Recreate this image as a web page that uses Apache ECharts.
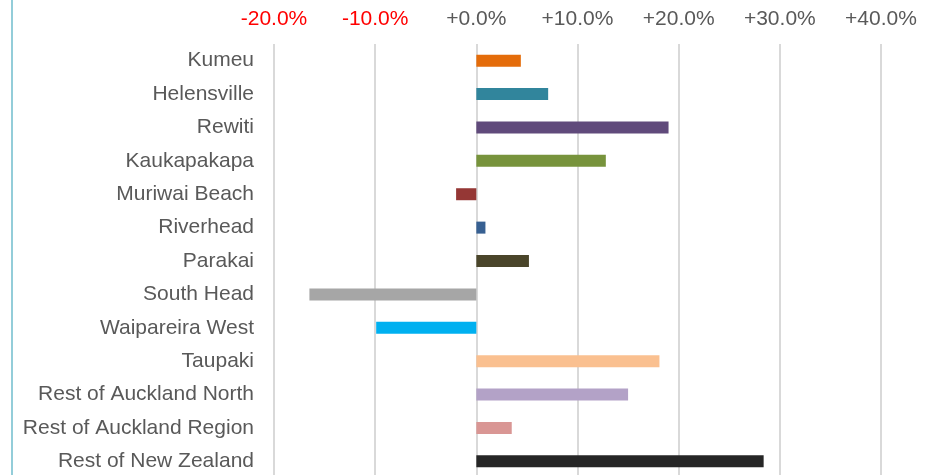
<!DOCTYPE html>
<html>
<head>
<meta charset="utf-8">
<script src="https://cdn.jsdelivr.net/npm/echarts@6/dist/echarts.min.js"></script>
<style>
  html, body { margin: 0; padding: 0; background: #fff; }
  #wrap { position: relative; width: 939px; height: 475px; overflow: hidden; }
  #edge { position: absolute; left: 11px; top: 0; width: 2px; height: 475px; background: #93cdd9; }
  #chart { position: absolute; left: 0; top: 0; width: 939px; height: 482px; }
</style>
</head>
<body>
<div id="wrap">
  <div id="chart"></div>
  <div id="edge"></div>
</div>
<script>
// areas, top to bottom
const areas = [
  'Kumeu', 'Helensville', 'Rewiti', 'Kaukapakapa', 'Muriwai Beach', 'Riverhead',
  'Parakai', 'South Head', 'Waipareira West', 'Taupaki', 'Rest of Auckland North',
  'Rest of Auckland Region', 'Rest of New Zealand'
];
// % change
const changes = [4.4, 7.1, 19.0, 12.8, -2.0, 0.9, 5.2, -16.5, -9.9, 18.1, 15.0, 3.5, 28.4];
const barColors = [
  '#e46c0a', '#31859c', '#604a7b', '#77933c', '#953735', '#376092',
  '#4a452a', '#a6a6a6', '#00b0f0', '#fac090', '#b3a2c7', '#d99694', '#262626'
];
const tickLabels = ['-20.0%', '-10.0%', '+0.0%', '+10.0%', '+20.0%', '+30.0%', '+40.0%'];

const chart = echarts.init(document.getElementById('chart'));

chart.setOption({
  animation: false,
  textStyle: { fontFamily: 'Liberation Sans, Arial, sans-serif' },
  grid: { left: 274, right: 58, top: 44, height: 434 },
  xAxis: {
    type: 'value',
    position: 'top',
    min: -20,
    max: 40,
    interval: 10,
    axisLine: { show: false },
    axisTick: { show: false },
    splitLine: { lineStyle: { color: '#d9d9d9', width: 2 } },
    axisLabel: {
      margin: 14,
      fontSize: 21,
      color: '#595959',
      formatter: (v) => {
        const i = Math.round((v + 20) / 10);
        const t = tickLabels[i];
        return v < 0 ? '{neg|' + t + '}' : t;
      },
      rich: { neg: { color: '#ff0000', fontSize: 21 } }
    }
  },
  yAxis: {
    type: 'category',
    data: areas,
    inverse: true,
    axisLine: { show: false },
    axisTick: { show: false },
    axisLabel: { margin: 20, fontSize: 21, color: '#595959' }
  },
  series: [{
    type: 'bar',
    barWidth: 12,
    data: changes.map((v, i) => ({ value: v, itemStyle: { color: barColors[i] } }))
  }]
});
</script>
</body>
</html>
